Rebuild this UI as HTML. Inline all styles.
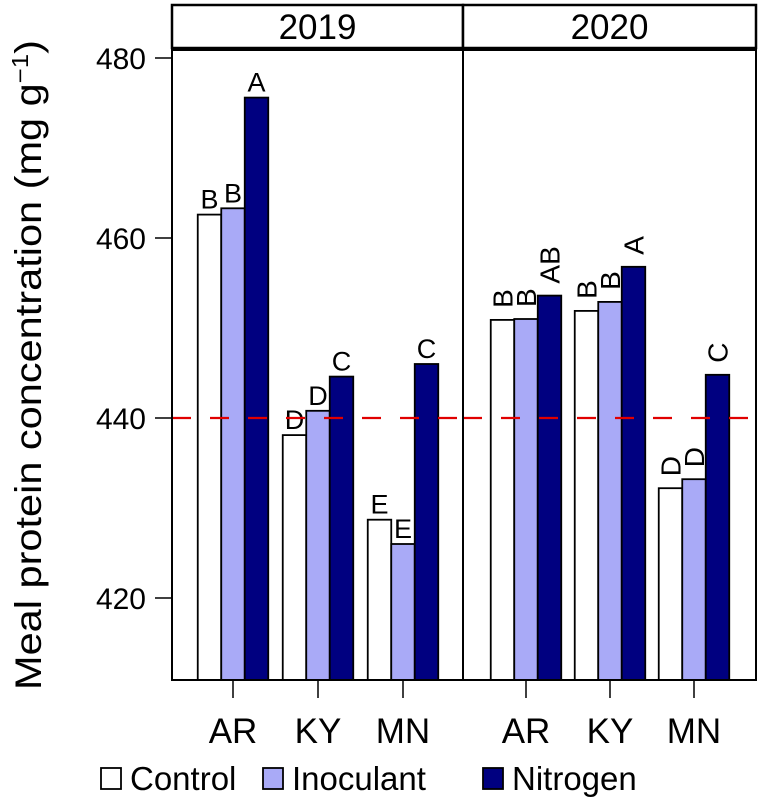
<!DOCTYPE html>
<html><head><meta charset="utf-8"><style>
html,body{margin:0;padding:0;background:#fff;}
svg{display:block;font-family:"Liberation Sans",Arial,sans-serif;}
</style></head><body>
<svg id="chart" width="765" height="803" viewBox="0 0 765 803"></svg>
<script>
const years = ["2019","2020"];
const sites = ["AR","KY","MN"];
const treatments = ["Control","Inoculant","Nitrogen"];
const values2019 = [[462.6,463.3,475.6],[438.1,440.8,444.6],[428.7,426.0,446.0]];
const values2020 = [[450.9,451.0,453.6],[451.9,452.9,456.8],[432.2,433.2,444.8]];
const letters2019 = [["B","B","A"],["D","D","C"],["E","E","C"]];
const letters2020 = [["B","B","AB"],["B","B","A"],["D","D","C"]];
const yTicks = [420,440,460,480];
const refLine = 440;

const svg = document.getElementById('chart');
const NS = 'http://www.w3.org/2000/svg';
function mk(tag, attrs, parent){const e=document.createElementNS(NS,tag);for(const k in attrs)e.setAttribute(k,attrs[k]);(parent||svg).appendChild(e);return e;}
const fills = ["#ffffff","#a9aaf7","#000080"];
const y = v => 418 - (v-440)*9;
const panels = [{x0:172,x1:463,ticks:[233,318,403]},{x0:463,x1:756,ticks:[526,610,694]}];
const allVals=[values2019,values2020], allLet=[letters2019,letters2020];
const bw=23.5;

panels.forEach((p,pi)=>{
  const strip=mk('rect',{x:p.x0,y:5,width:p.x1-p.x0,height:43,fill:'#fff',stroke:'#000','stroke-width':2.5});
  
  
  const st=mk('text',{x:(p.x0+p.x1)/2,y:39,'text-anchor':'middle','font-size':35});
  st.textContent=years[pi];
  
  
  sites.forEach((s,si)=>{
    const cx=p.ticks[si];
    treatments.forEach((t,ti)=>{
      const v=allVals[pi][si][ti];
      const bx=cx-1.5*bw+ti*bw;
      const r=mk('rect',{x:bx,y:y(v),width:bw,height:680-y(v),fill:fills[ti],stroke:'#000','stroke-width':1.8});
      
      
      const L=allLet[pi][si][ti];
      let tx;
      if(pi===0){
        tx=mk('text',{x:bx+bw/2,y:y(v)-6,'text-anchor':'middle','font-size':27});
      } else {
        const lx=bx+bw/2+10, ly=y(v)-12;
        tx=mk('text',{x:lx,y:ly,'text-anchor':'start','font-size':28,transform:'rotate(-90 '+lx+' '+ly+')'});
      }
      tx.textContent=L;
      
      
    });
    const tk=mk('line',{x1:cx,x2:cx,y1:680,y2:698,stroke:'#000','stroke-width':1.5});
    
    
    const xl=mk('text',{x:cx,y:743,'text-anchor':'middle','font-size':35});
    xl.textContent=s;
    
    
  });
  const ref=mk('line',{x1:p.x0,x2:p.x1,y1:y(refLine),y2:y(refLine),stroke:'#e00000','stroke-width':2.3,'stroke-dasharray':'19,19'});
  
  
  const fr=mk('rect',{x:p.x0,y:50,width:p.x1-p.x0,height:630,fill:'none',stroke:'#000','stroke-width':2});
  
  
});
yTicks.forEach(v=>{
  const l=mk('line',{x1:155,x2:172,y1:y(v),y2:y(v),stroke:'#000','stroke-width':1.5});
  
  
  const t=mk('text',{x:146,y:y(v)+11,'text-anchor':'end','font-size':30});
  t.textContent=v;
  
  
});
const yt=mk('text',{x:0,y:0,'text-anchor':'middle','font-size':37,textLength:650,lengthAdjust:'spacingAndGlyphs',transform:'translate(41 365) rotate(-90)'});
yt.innerHTML='Meal protein concentration (mg g<tspan dy="-13" font-size="23">−1</tspan><tspan dy="13">)</tspan>';


const legX=[101,263,483];
treatments.forEach((t,ti)=>{
  const g=mk('g',{});
  
  
  mk('rect',{x:legX[ti],y:768,width:20,height:21,fill:fills[ti],stroke:'#000','stroke-width':1.8},g);
  const tt=mk('text',{x:legX[ti]+29,y:790,'font-size':33},g);
  tt.textContent=t;
});
</script>
</body></html>
